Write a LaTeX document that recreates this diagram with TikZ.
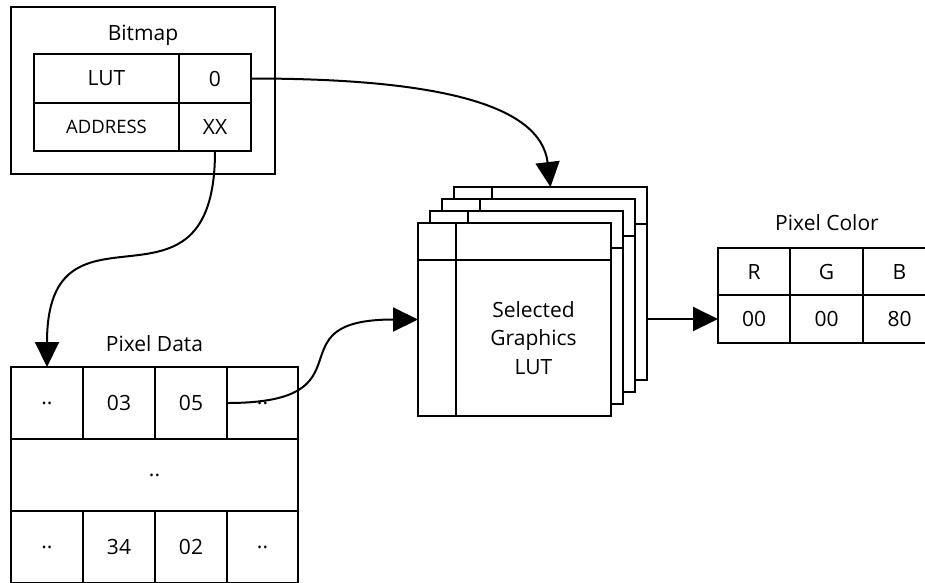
\documentclass[tikz,border=0pt]{standalone}
\usepackage{fontspec}
\setmainfont{Open Sans}
\usetikzlibrary{arrows.meta}
\tikzset{
  txt/.style={font=\fontsize{21pt}{28pt}\selectfont, inner sep=0pt},
  cell/.style={draw, line width=2pt, rectangle, inner sep=0pt, outer sep=0pt,
    font=\fontsize{21pt}{28pt}\selectfont},
  lutbox/.style={draw, line width=2pt, fill=white, rectangle, inner sep=0pt, outer sep=0pt,
    minimum width=193pt, minimum height=193pt},
  conn/.style={line width=2pt, -{Triangle[length=25pt,width=24pt]}},
}
\begin{document}
\begin{tikzpicture}[x=1pt,y=-1pt]
\useasboundingbox (0,0) rectangle (925,582);
\clip (0,0) rectangle (925,582);
\fill[white] (0,0) rectangle (925,582);

% Bitmap
\node[cell, minimum width=264pt, minimum height=167pt] (bm) at (143,90.5) {};
\node[txt] (bmlabel) at (143,35) {Bitmap};
\node[cell, minimum width=145pt, minimum height=49pt] (b11) at (106.5,78.5) {LUT};
\node[cell, minimum width=72pt, minimum height=49pt] (b12) at (215,78.5) {0};
\node[cell, minimum width=145pt, minimum height=48pt, font=\fontsize{18.5pt}{24pt}\selectfont] (b21) at (106.5,127) {ADDRESS};
\node[cell, minimum width=72pt, minimum height=48pt] (b22) at (215,127) {XX};

% Pixel Data
\node[txt] (pdlabel) at (154.5,344) {Pixel Data};
\node[cell, minimum width=72pt, minimum height=72pt] (d11) at (47,403) {..};
\node[cell, minimum width=72pt, minimum height=72pt] (d12) at (119,403) {03};
\node[cell, minimum width=72pt, minimum height=72pt] (d13) at (191,403) {05};
\node[cell, minimum width=71pt, minimum height=72pt] (d14) at (262.5,403) {..};
\node[cell, minimum width=287pt, minimum height=72pt] (d2) at (154.5,475) {..};
\node[cell, minimum width=72pt, minimum height=72pt] (d31) at (47,547) {..};
\node[cell, minimum width=72pt, minimum height=72pt] (d32) at (119,547) {34};
\node[cell, minimum width=72pt, minimum height=72pt] (d33) at (191,547) {02};
\node[cell, minimum width=71pt, minimum height=72pt] (d34) at (262.5,547) {..};

% LUT stack
\foreach \i/\cx/\cy in {3/550.5/283.5, 2/538.5/295.5, 1/526.5/307.5, 0/514.5/319.5}{
  \node[lutbox] (lut\i) at (\cx,\cy) {};
  \draw[line width=2pt] ([yshift=-37pt]lut\i.north west) -- ([yshift=-37pt]lut\i.north east);
  \draw[line width=2pt] ([xshift=38pt]lut\i.north west) -- ([xshift=38pt]lut\i.south west);
}
\node[txt, align=center, font=\fontsize{21pt}{28.5pt}\selectfont] (luttext) at (533.5,338) {Selected\\Graphics\\LUT};

% Pixel Color
\node[txt] (pclabel) at (827,223) {Pixel Color};
\node[cell, minimum width=72pt, minimum height=47pt] (c11) at (754,271.5) {R};
\node[cell, minimum width=73pt, minimum height=47pt] (c12) at (826.5,271.5) {G};
\node[cell, minimum width=73pt, minimum height=47pt] (c13) at (899.5,271.5) {B};
\node[cell, minimum width=72pt, minimum height=48pt] (c21) at (754,319) {00};
\node[cell, minimum width=73pt, minimum height=48pt] (c22) at (826.5,319) {00};
\node[cell, minimum width=73pt, minimum height=48pt] (c23) at (899.5,319) {80};

% Connectors
\draw[conn] (b12.east) .. controls +(178,0) and +(-10,-85) .. (lut3.north);
\draw[conn] (b22.south) .. controls +(0,185) and +(0,-185) .. (d11.north);
\draw[conn] (d13.east) .. controls +(150,0) and +(-150,0) .. (lut0.west);
\draw[conn] (lut3.east |- c21.west) -- (c21.west);
\end{tikzpicture}
\end{document}
